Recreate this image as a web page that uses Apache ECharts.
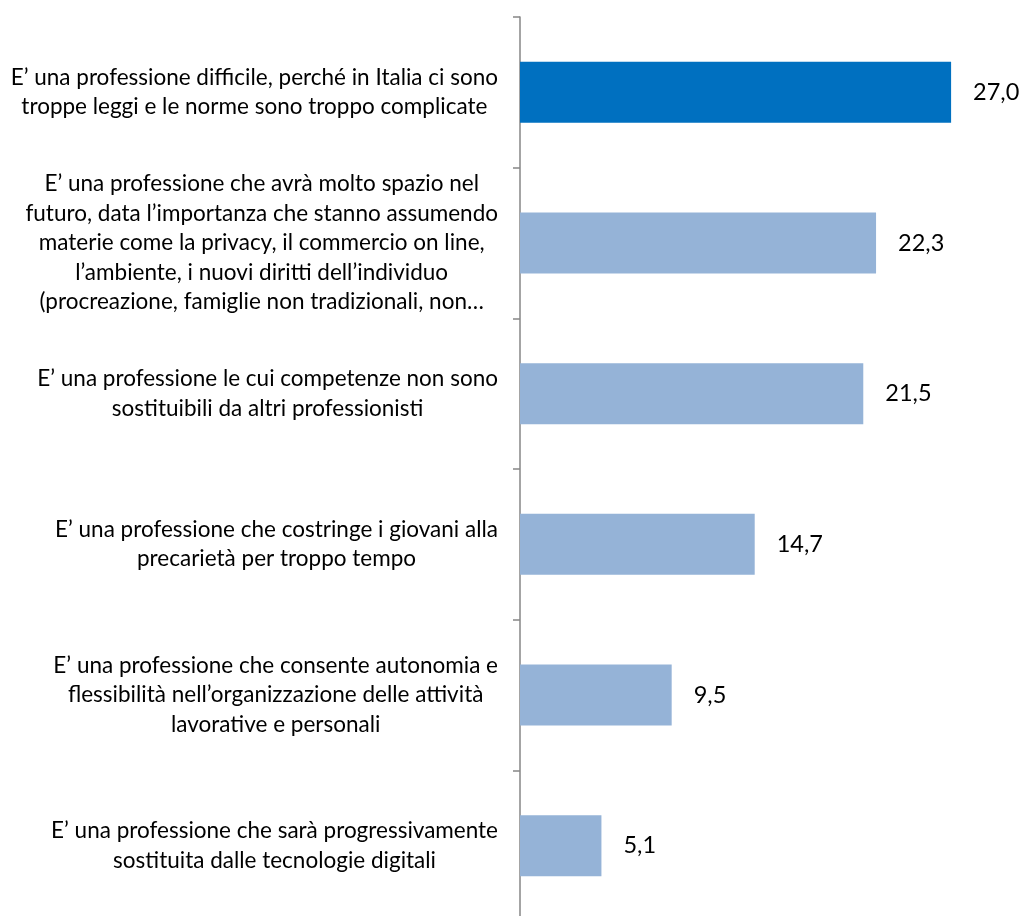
<!doctype html>
<html>
<head>
<meta charset="utf-8">
<title>Professione</title>
<script src="https://cdn.jsdelivr.net/npm/echarts@6/dist/echarts.min.js"></script>
<style>
  html, body { margin: 0; padding: 0; background: #fff; }
  #chart { width: 1027px; height: 916px; }
</style>
</head>
<body>
<div id="chart"></div>
<script>
  var categories = [
    'E\u2019 una professione difficile, perché in Italia ci sono\ntroppe leggi e le norme sono troppo complicate',
    'E\u2019 una professione che avrà molto spazio nel\nfuturo, data l\u2019importanza che stanno assumendo\nmaterie come la privacy, il commercio on line,\nl\u2019ambiente, i nuovi diritti dell\u2019individuo\n(procreazione, famiglie non tradizionali, non…',
    'E\u2019 una professione le cui competenze non sono\nsostituibili da altri professionisti',
    'E\u2019 una professione che costringe i giovani alla\nprecarietà per troppo tempo',
    'E\u2019 una professione che consente autonomia e\nflessibilità nell\u2019organizzazione delle attività\nlavorative e personali',
    'E\u2019 una professione che sarà progressivamente\nsostituita dalle tecnologie digitali'
  ];
  var values = [27.0, 22.3, 21.5, 14.7, 9.5, 5.1];
  var highlightIndex = 0;

  var FONT = 'Lato';
  var chart = echarts.init(document.getElementById('chart'));

  var option = {
    animation: false,
    grid: {
      left: 520,
      width: 479,
      top: 17,
      height: 904,
      outerBoundsMode: 'none'
    },
    xAxis: {
      type: 'value',
      min: 0,
      max: 30,
      show: false
    },
    yAxis: {
      type: 'category',
      inverse: true,
      data: categories,
      axisLine: { show: true, lineStyle: { color: '#868686', width: 1.5 } },
      axisTick: { show: true, inside: false, length: 7, lineStyle: { color: '#868686', width: 1.5 } },
      axisLabel: {
        margin: 22,
        align: 'right',
        fontFamily: FONT,
        formatter: function (v) {
          return v.split('\n').map(function (l) { return '{c|' + l + '}'; }).join('\n');
        },
        rich: {
          c: {
            align: 'center',
            fontFamily: FONT,
            fontSize: 22.5,
            lineHeight: 29.5,
            color: '#000'
          }
        }
      }
    },
    series: [{
      type: 'bar',
      barWidth: 61,
      data: values.map(function (v, i) {
        return {
          value: v,
          itemStyle: { color: i === highlightIndex ? '#0070C0' : '#95B3D7' }
        };
      }),
      label: {
        show: true,
        position: 'right',
        distance: 22,
        fontFamily: FONT,
        fontSize: 23.5,
        color: '#000',
        formatter: function (p) { return p.value.toFixed(1).replace('.', ','); }
      }
    }]
  };

  chart.setOption(option);
</script>
</body>
</html>
